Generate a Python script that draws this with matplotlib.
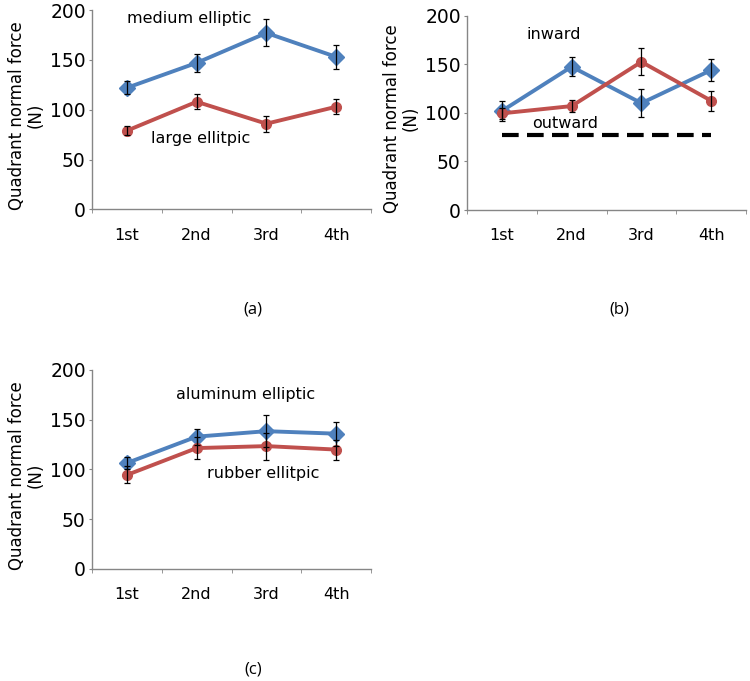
import matplotlib
matplotlib.use("Agg")
import matplotlib.pyplot as plt
import numpy as np

categories = ["1st", "2nd", "3rd", "4th"]
yticks = [0, 50, 100, 150, 200]

a_medium = [122, 147, 177, 153]
a_medium_err = [6.5, 9, 13.5, 12]
a_large = [79, 108, 86, 103]
a_large_err = [4.5, 7.5, 8, 7.7]

b_inward = [102, 147.5, 110, 144]
b_inward_err = [10, 10, 14.5, 11.7]
b_red = [99.5, 107, 152.5, 112.5]
b_red_err = [6, 6.5, 14, 10.3]
b_outward = [77, 77, 77, 77]

c_aluminum = [106.5, 133, 138.5, 136]
c_aluminum_err = [6, 8, 16, 12]
c_rubber = [94.5, 121.5, 123.5, 120]
c_rubber_err = [8.5, 11, 13.5, 10]

BLUE = "#4F81BD"
RED = "#C0504D"
AXC = "#868686"

plt.rcParams["font.family"] = ["DejaVu Sans"]

fig = plt.figure(figsize=(7.5, 6.81), dpi=100)

def setup(ax):
    x = np.arange(len(categories))
    ax.set_xlim(-0.5, len(categories) - 0.5)
    ax.set_ylim(0, 200)
    for s in ["top", "right"]:
        ax.spines[s].set_visible(False)
    for s in ["left", "bottom"]:
        ax.spines[s].set_color(AXC)
        ax.spines[s].set_linewidth(1.0)
    ax.set_xticks(x)
    ax.set_xticklabels(categories, fontsize=11.5)
    ax.set_xticks(np.arange(len(categories) + 1) - 0.5, minor=True)
    ax.tick_params(axis="x", which="major", length=0, pad=13)
    ax.tick_params(axis="x", which="minor", length=3, color=AXC, direction="out")
    ax.set_yticks(yticks)
    ax.tick_params(axis="y", labelsize=13.5, length=2.5, color=AXC, pad=2)
    ax.set_ylabel("Quadrant normal force\n(N)", fontsize=12, linespacing=1.0)
    ax.yaxis.label.set_verticalalignment("center")
    ax.yaxis.set_label_coords(-0.235, 0.47)
    return x

def series(ax, x, y, err, color, marker, ms):
    ax.plot(x, y, color=color, lw=2.8, marker=marker, ms=ms, mfc=color,
            mec=color, zorder=3, solid_capstyle="round")
    ax.errorbar(x, y, yerr=err, fmt="none", ecolor="black", elinewidth=0.9,
                capsize=2.5, capthick=0.9, zorder=4)

# (a)
ax1 = fig.add_axes([0.1227, 0.6924, 0.372, 0.2929])
x = setup(ax1)
series(ax1, x, a_medium, a_medium_err, BLUE, "D", 8)
series(ax1, x, a_large, a_large_err, RED, "o", 7)
ax1.text(0.9, 191, "medium elliptic", fontsize=11.5, ha="center", va="center")
ax1.text(1.05, 71, "large ellitpic", fontsize=11.5, ha="center", va="center")

# (b)
ax2 = fig.add_axes([0.6227, 0.6916, 0.372, 0.2853])
x = setup(ax2)
series(ax2, x, b_inward, b_inward_err, BLUE, "D", 8)
series(ax2, x, b_red, b_red_err, RED, "o", 7)
ax2.plot(x, b_outward, color="black", lw=3, dashes=(4, 2), zorder=2)
ax2.text(0.75, 181, "inward", fontsize=11.5, ha="center", va="center")
ax2.text(0.9, 89, "outward", fontsize=11.5, ha="center", va="center")

# (c)
ax3 = fig.add_axes([0.1227, 0.1645, 0.372, 0.2922])
x = setup(ax3)
series(ax3, x, c_aluminum, c_aluminum_err, BLUE, "D", 8)
series(ax3, x, c_rubber, c_rubber_err, RED, "o", 7)
ax3.text(1.7, 175, "aluminum elliptic", fontsize=11.5, ha="center", va="center")
ax3.text(1.95, 96, "rubber ellitpic", fontsize=11.5, ha="center", va="center")

fig.text(253 / 750, 1 - 310 / 681, "(a)", fontsize=12, family="Open Sans", ha="center", va="center")
fig.text(619 / 750, 1 - 310 / 681, "(b)", fontsize=12, family="Open Sans", ha="center", va="center")
fig.text(253 / 750, 1 - 670 / 681, "(c)", fontsize=12, family="Open Sans", ha="center", va="center")

fig.savefig("out.png", dpi=100)
